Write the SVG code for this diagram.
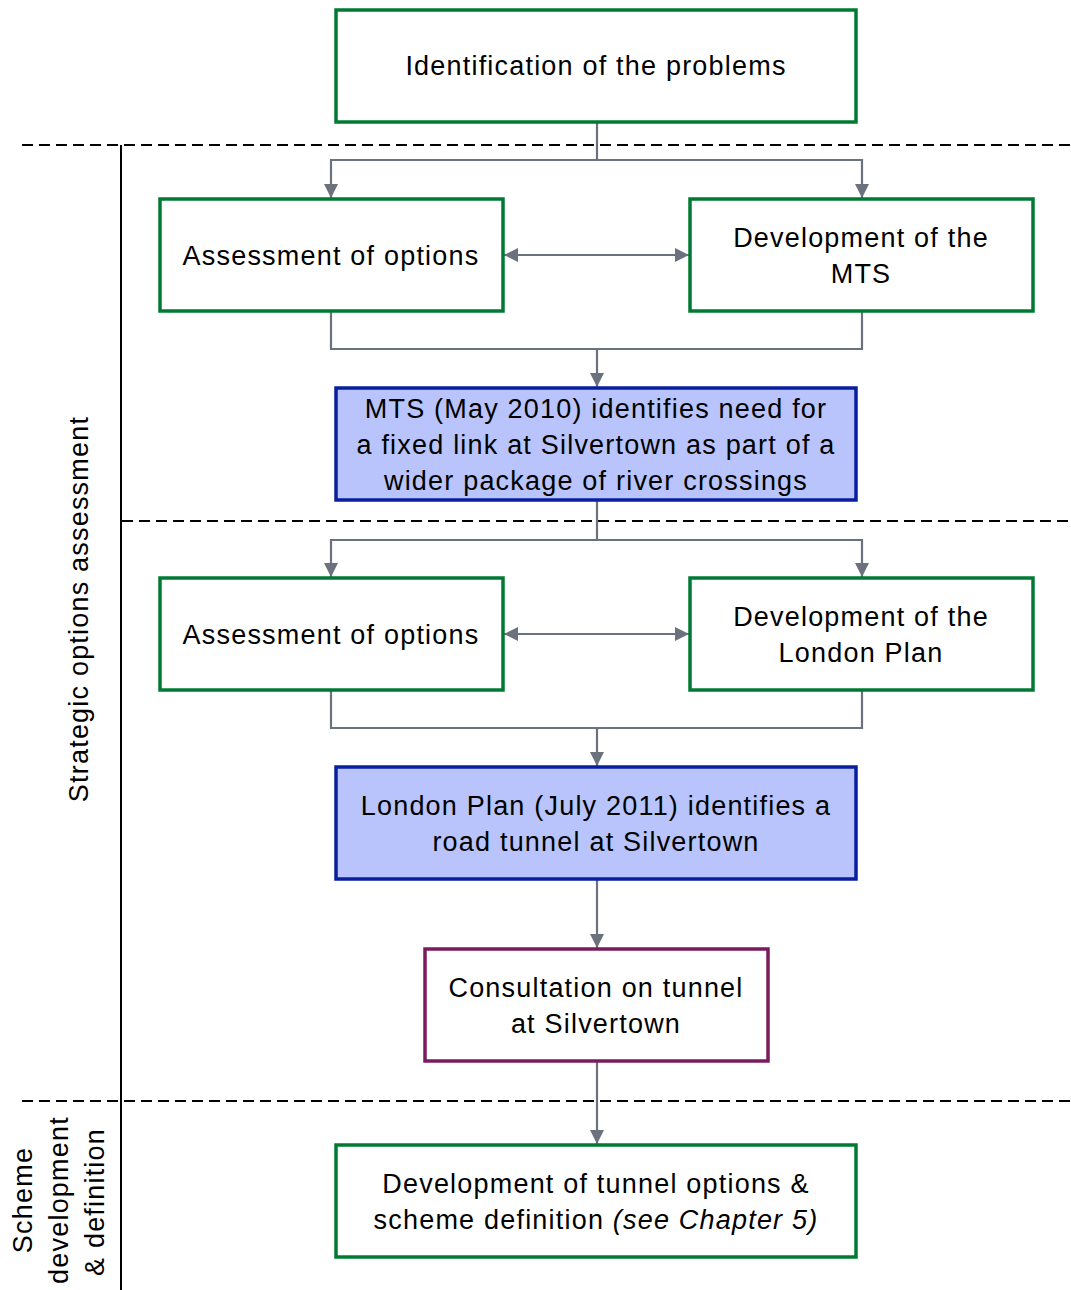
<svg xmlns="http://www.w3.org/2000/svg" width="1071" height="1290" viewBox="0 0 1071 1290">
<style>
.box{fill:#fff;stroke:#007a33;stroke-width:3.5}
.blue{fill:#b8c4fb;stroke:#0a1fa0;stroke-width:3.5}
.purple{fill:#fff;stroke:#7b1a5c;stroke-width:3.5}
.t{font-family:"Liberation Sans",Arial,sans-serif;font-size:27px;letter-spacing:1.2px;fill:#000;text-anchor:middle}
.c{fill:none;stroke:#6b717d;stroke-width:2.2}
.dash{stroke:#000;stroke-width:2;stroke-dasharray:11 6;fill:none}
</style>
<defs>
<marker id="a" viewBox="0 0 14 14" refX="14" refY="7" markerWidth="14" markerHeight="14" orient="auto-start-reverse" markerUnits="userSpaceOnUse">
<path d="M0,0 L14,7 L0,14 z" fill="#6b717d"/>
</marker>
</defs>
<g id="dividers">
<line class="dash" x1="22" y1="145" x2="1071" y2="145"/>
<line class="dash" x1="122" y1="521" x2="1071" y2="521"/>
<line class="dash" x1="22" y1="1101" x2="1071" y2="1101"/>
<line x1="121" y1="145" x2="121" y2="1290" stroke="#000" stroke-width="2"/>
</g>
<g id="labels">
<text class="t" transform="translate(88,609) rotate(-90)">Strategic options assessment</text>
<text class="t" transform="translate(32,1200) rotate(-90)">Scheme</text>
<text class="t" transform="translate(68,1200) rotate(-90)">development</text>
<text class="t" transform="translate(104,1202) rotate(-90)">&amp; definition</text>
</g>
<g id="connectors">
<polyline class="c" points="597,122 597,160"/>
<polyline class="c" points="331,198 331,160 862,160 862,198" marker-start="url(#a)" marker-end="url(#a)"/>
<line class="c" x1="504" y1="255" x2="689" y2="255" marker-start="url(#a)" marker-end="url(#a)"/>
<polyline class="c" points="331,311 331,349 862,349 862,311"/>
<line class="c" x1="597" y1="349" x2="597" y2="387" marker-end="url(#a)"/>
<polyline class="c" points="597,500 597,540"/>
<polyline class="c" points="331,577 331,540 862,540 862,577" marker-start="url(#a)" marker-end="url(#a)"/>
<line class="c" x1="504" y1="634" x2="689" y2="634" marker-start="url(#a)" marker-end="url(#a)"/>
<polyline class="c" points="331,690 331,728 862,728 862,690"/>
<line class="c" x1="597" y1="728" x2="597" y2="766" marker-end="url(#a)"/>
<line class="c" x1="597" y1="879" x2="597" y2="948" marker-end="url(#a)"/>
<line class="c" x1="597" y1="1061" x2="597" y2="1144" marker-end="url(#a)"/>
</g>
<g id="n1"><rect class="box" x="336" y="10" width="520" height="112"/><text class="t" x="596" y="75">Identification of the problems</text></g>
<g id="n2"><rect class="box" x="160" y="199" width="343" height="112"/><text class="t" x="331" y="265">Assessment of options</text></g>
<g id="n3"><rect class="box" x="690" y="199" width="343" height="112"/><text class="t" x="861" y="247">Development of the</text><text class="t" x="861" y="283">MTS</text></g>
<g id="n4"><rect class="blue" x="336" y="388" width="520" height="112"/><text class="t" x="596" y="418">MTS (May 2010) identifies need for</text><text class="t" x="596" y="454">a fixed link at Silvertown as part of a</text><text class="t" x="596" y="490">wider package of river crossings</text></g>
<g id="n5"><rect class="box" x="160" y="578" width="343" height="112"/><text class="t" x="331" y="644">Assessment of options</text></g>
<g id="n6"><rect class="box" x="690" y="578" width="343" height="112"/><text class="t" x="861" y="626">Development of the</text><text class="t" x="861" y="662">London Plan</text></g>
<g id="n7"><rect class="blue" x="336" y="767" width="520" height="112"/><text class="t" x="596" y="815">London Plan (July 2011) identifies a</text><text class="t" x="596" y="851">road tunnel at Silvertown</text></g>
<g id="n8"><rect class="purple" x="425" y="949" width="343" height="112"/><text class="t" x="596" y="997">Consultation on tunnel</text><text class="t" x="596" y="1033">at Silvertown</text></g>
<g id="n9"><rect class="box" x="336" y="1145" width="520" height="112"/><text class="t" x="596" y="1193">Development of tunnel options &amp;</text><text class="t" x="596" y="1229">scheme definition <tspan font-style="italic">(see Chapter 5)</tspan></text></g>
</svg>
